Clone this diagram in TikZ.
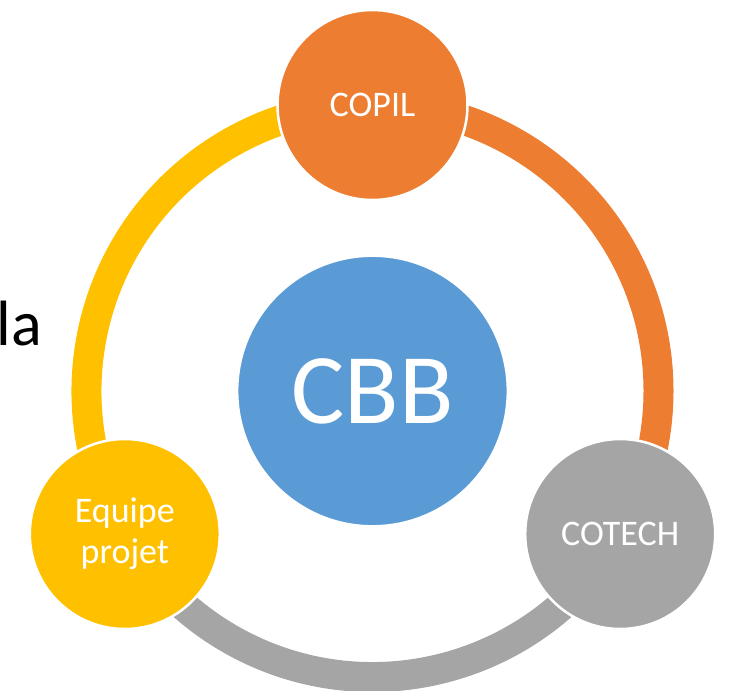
\documentclass[tikz,border=0pt]{standalone}
\usepackage{fontspec}
\setmainfont{Carlito}
\usetikzlibrary{positioning,calc,backgrounds}
\definecolor{copilorange}{HTML}{ED7D31}
\definecolor{cotechgray}{HTML}{A5A5A5}
\definecolor{equipeyellow}{HTML}{FFC000}
\definecolor{cbbblue}{HTML}{5B9BD5}

\begin{document}
\begin{tikzpicture}[x=0.75pt, y=0.75pt,
    ring/.style={line width=22.5pt, line cap=butt},
    member/.style={circle, draw=white, line width=1.9pt, minimum size=142.5pt, inner sep=0pt,
        text=white, align=center, font=\fontsize{27}{31}\selectfont}]
    \useasboundingbox (0,0) rectangle (730,-690);

    \coordinate (hub) at (372.5,-391);
    \node[member, fill=cbbblue, minimum size=203pt, font=\fontsize{75}{80}\selectfont] (cbb) at (hub) {CBB};
    \node[member, fill=copilorange] (copil) at ($(hub)+(90:286)$) {COPIL};
    \node[member, fill=cotechgray] (cotech) at ($(hub)+(-30:286)$) {COTECH};
    \node[member, fill=equipeyellow] (equipe) at ($(hub)+(210:286)$) {Equipe\\projet};
    \node[anchor=base east, inner sep=0pt, font=\fontsize{48}{56}\selectfont] (la) at (42,-345) {la};

    % ring between the committees
    \begin{scope}[on background layer]
        \draw[ring, copilorange] (copil.center) arc[start angle=90, end angle=-30, radius=286];
        \draw[ring, cotechgray] (cotech.center) arc[start angle=-30, end angle=-150, radius=286];
        \draw[ring, equipeyellow] (equipe.center) arc[start angle=210, end angle=90, radius=286];
    \end{scope}
\end{tikzpicture}
\end{document}
